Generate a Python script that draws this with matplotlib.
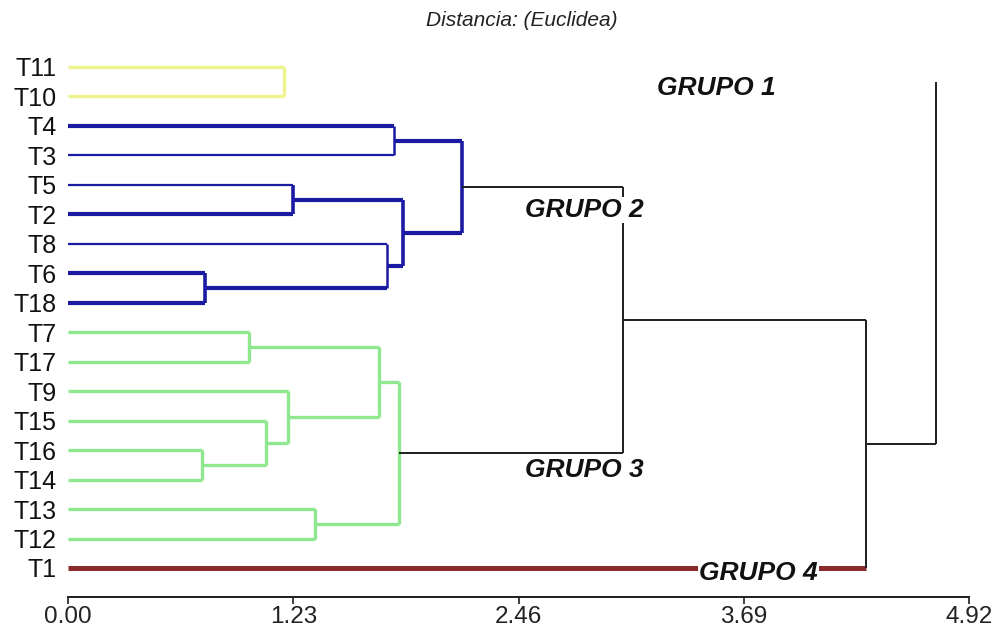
import matplotlib
matplotlib.use("Agg")
import matplotlib.pyplot as plt

# ---------------- data ----------------
leaf_labels = ["T11", "T10", "T4", "T3", "T5", "T2", "T8", "T6", "T18",
               "T7", "T17", "T9", "T15", "T16", "T14", "T13", "T12", "T1"]
leaf_groups = [1, 1, 2, 2, 2, 2, 2, 2, 2, 3, 3, 3, 3, 3, 3, 3, 3, 4]

# merges: (child a, child b, height); node ids 0..17 are leaves, 18.. merges
merge_a = [0, 2, 4, 7, 6, 20, 19, 9, 13, 12, 11, 25, 15, 29, 24, 32, 18]
merge_b = [1, 3, 5, 8, 21, 22, 23, 10, 14, 26, 27, 28, 16, 30, 31, 17, 33]
merge_h = [1.18, 1.78, 1.23, 0.75, 1.74, 1.83, 2.15, 0.99, 0.73, 1.08,
           1.20, 1.70, 1.35, 1.81, 3.03, 4.36, 4.74]

x_ticks = [0.00, 1.23, 2.46, 3.69, 4.92]
group_names = ["GRUPO 1", "GRUPO 2", "GRUPO 3", "GRUPO 4"]

# ---------------- styles ----------------
group_colors = {1: "#eef38e", 2: "#1a1aa2", 3: "#8fe88f", 4: "#8a2a2a"}
leaf_lw = {"T4": 3.0, "T2": 3.0, "T6": 3.0, "T18": 3.0,
           "T3": 1.6, "T5": 1.6, "T8": 1.6, "T1": 3.6}
default_lw = {1: 2.4, 2: 2.4, 3: 2.4, 4: 3.6}
thin_blue_verticals = {1.78, 1.74}
black = "#1e1e1e"

plt.rcParams["font.family"] = ["Liberation Sans", "DejaVu Sans"]

fig = plt.figure(figsize=(10, 6.34), dpi=100)
# pixel geometry: x=0 at px 68, x=4.92 at px 969; leaf0 at px 67, leaf17 at px 568
ax = fig.add_axes([0.068, 1 - 597 / 634, 0.901, (597 - 20) / 634])
ax.set_xlim(0, 4.92)
px_per_leaf = (568 - 67) / 17
ax.set_ylim(17 + (597 - 568) / px_per_leaf, -(67 - 20) / px_per_leaf)

n = len(leaf_labels)
pos = {i: float(i) for i in range(n)}
height = {i: 0.0 for i in range(n)}
members = {i: {leaf_groups[i]} for i in range(n)}

for k, (a, b, h) in enumerate(zip(merge_a, merge_b, merge_h)):
    node = n + k
    pos[node] = (pos[a] + pos[b]) / 2
    height[node] = h
    members[node] = members[a] | members[b]
    inside = len(members[node]) == 1
    for c in (a, b):
        if c < n:
            g = leaf_groups[c]
            col = group_colors[g]
            lw = leaf_lw.get(leaf_labels[c], default_lw[g])
        elif inside:
            g = next(iter(members[c]))
            col = group_colors[g]
            lw = 3.0 if g == 2 else default_lw[g]
        elif members[c] == {1}:
            col = None  # link of group 1 is not visible in the original
            lw = 0
        else:
            col = black
            lw = 1.4
        if col is not None:
            ax.plot([height[c], h], [pos[c], pos[c]], color=col, lw=lw,
                    solid_capstyle="butt", zorder=2)
    if inside:
        g = next(iter(members[node]))
        vcol = group_colors[g]
        vlw = 2.6 if g == 2 else 2.4
        if g == 2 and h in thin_blue_verticals:
            vlw = 1.8
    else:
        vcol = black
        vlw = 1.4
    ax.plot([h, h], [pos[a], pos[b]], color=vcol, lw=vlw,
            solid_capstyle="butt", zorder=2)

# axes styling
for s in ("top", "right", "left"):
    ax.spines[s].set_visible(False)
ax.spines["bottom"].set_linewidth(1.4)
ax.spines["bottom"].set_color(black)
ax.set_xticks(x_ticks)
ax.set_xticklabels([f"{v:.2f}" for v in x_ticks], fontsize=17.5, color="#222")
ax.tick_params(axis="x", direction="out", length=5, width=1.2, pad=1.5, color=black)
ax.set_yticks(range(n))
ax.set_yticklabels(leaf_labels, fontsize=18, color="#111")
ax.tick_params(axis="y", length=0, pad=8)

fig.text(0.522, 1 - 21 / 634, "Distancia: (Euclidea)", fontsize=15,
         style="italic", color="#222", ha="center", va="center")

# group labels
label_x = [3.54, 2.82, 2.82, 3.77]
label_y = [0.70, 4.85, 13.67, 17.17]
for name, lx, ly in zip(group_names, label_x, label_y):
    ax.text(lx, ly, name, fontsize=19, fontweight="bold", style="italic",
            ha="center", va="center", color="#111", zorder=5,
            bbox=dict(facecolor="white", edgecolor="none", pad=0.5))

fig.savefig("out.png", dpi=100, facecolor="white")
